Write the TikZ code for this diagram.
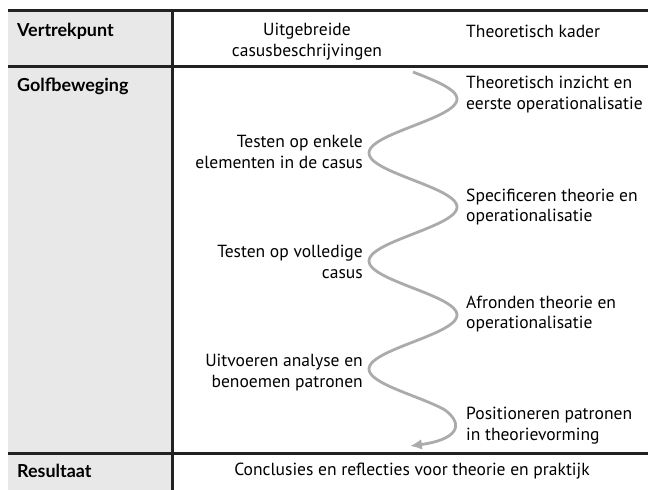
\documentclass[tikz,border=0pt]{standalone}
\usepackage{fontspec}
\setmainfont{PT Sans}
\newfontfamily\headfont{Lato}
\usepackage{tikz}
\usetikzlibrary{arrows.meta,positioning,calc}

\definecolor{rowgray}{HTML}{E8E8E8}
\definecolor{wavegray}{HTML}{ABABAB}
\definecolor{rulecol}{HTML}{222222}

\begin{document}
\begin{tikzpicture}[
  x=1bp, y=-1bp,
  rule/.style={rulecol, line width=3bp},
  head/.style={anchor=west, font=\headfont\fontsize{18}{21}\selectfont\bfseries, inner sep=0pt},
  txt/.style={font=\fontsize{17.6}{21}\selectfont, inner sep=0pt},
  rtxt/.style={txt, anchor=west, align=left},
  ltxt/.style={txt, anchor=east, align=right},
  wave/.style={wavegray, line width=2.8bp, -{Latex[length=4.2mm,width=3.8mm]}}
]
  \useasboundingbox (0,0) rectangle (648,490);
  \fill[rowgray] (8,11) rectangle (172,490);
  \draw[rule] (8,11) -- (648,11);
  \draw[rule] (8,66.5) -- (648,66.5);
  \draw[rule] (8,453.5) -- (648,453.5);
  \draw[rule] (172,11) -- (172,490);

  \node[head] (vertrek) at (17,31) {Vertrekpunt};
  \node[head] (golf) at (17,86) {Golfbeweging};
  \node[head] (result) at (17,471) {Resultaat};

  \node[txt, align=center] (casus) at (307,42) {Uitgebreide\\casusbeschrijvingen};
  \node[rtxt] (kader) at (466,31) {Theoretisch kader};

  \node[rtxt] (inzicht) at (466,95) {Theoretisch inzicht en\\eerste operationalisatie};
  \node[rtxt] (specif) at (466,207) {Specificeren theorie en\\operationalisatie};
  \node[rtxt] (afrond) at (466,314) {Afronden theorie en\\operationalisatie};
  \node[rtxt] (posit) at (466,426) {Positioneren patronen\\in theorievorming};

  \node[ltxt] (enkele) at (363,152) {Testen op enkele\\elementen in de casus};
  \node[ltxt] (volledig) at (363,262) {Testen op volledige\\casus};
  \node[ltxt] (analyse) at (363,373) {Uitvoeren analyse en\\benoemen patronen};

  \node[txt] (concl) at (412,471) {Conclusies en reflecties voor theorie en praktijk};

  \coordinate (pijl) at (410,446);
  \draw[wave] plot[domain=0:338, samples=160, smooth]
    ({413+44*sin(\x*3.3333)}, {72+\x})
    .. controls (466,426) and (455,440) .. (pijl);
\end{tikzpicture}
\end{document}
